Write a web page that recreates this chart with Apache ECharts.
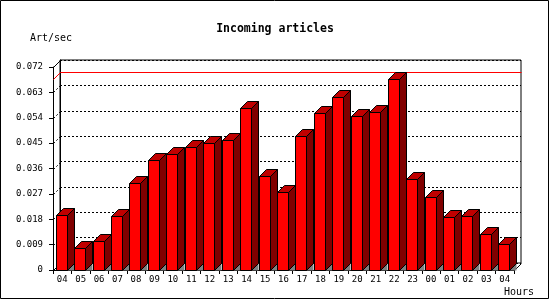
<!DOCTYPE html>
<html>
<head>
<meta charset="utf-8">
<script src="https://cdn.jsdelivr.net/npm/echarts@6/dist/echarts.min.js"></script>
<style>
  html, body { margin: 0; padding: 0; background: #fff; }
  #chart { width: 550px; height: 300px; }
</style>
</head>
<body>
<div id="chart"></div>
<script>
// hour labels along the x axis
const hours = ['04', '05', '06', '07', '08', '09', '10', '11', '12', '13', '14', '15', '16',
  '17', '18', '19', '20', '21', '22', '23', '00', '01', '02', '03', '04']
// incoming articles per second
const artPerSec = [0.0194, 0.0077, 0.0103, 0.0190, 0.0307, 0.0390, 0.0410, 0.0435, 0.0449,
  0.0460, 0.0576, 0.0332, 0.0275, 0.0474, 0.0556, 0.0615, 0.0545, 0.0559, 0.0679, 0.0321,
  0.0258, 0.0187, 0.0190, 0.0126, 0.0091]
// y axis ticks
const yTicks = [0, 0.009, 0.018, 0.027, 0.036, 0.045, 0.054, 0.063, 0.072]

const FONT = 'DejaVu Sans Mono'
const DEPTH = 7
const yMin = yTicks[0]
const yMax = yTicks[yTicks.length - 1]
const yStep = yTicks[1] - yTicks[0]

const chart = echarts.init(document.getElementById('chart'))

// left wall ticks, max line and floor edge
const renderFrame = (params, api) => {
  const cs = params.coordSys
  const x0 = Math.round(cs.x) + 0.5
  const x1 = Math.round(cs.x + cs.width) + 0.5
  const yb = Math.round(cs.y + cs.height) + 0.5
  const children = []
  yTicks.forEach((v, i) => {
    const y = Math.round(api.coord([0, v])[1]) + 0.5
    const solid = i === 0 || i === yTicks.length - 1
    children.push({
      type: 'line',
      shape: { x1: x0, y1: y, x2: x0 + DEPTH, y2: y - DEPTH },
      style: { stroke: '#000', lineWidth: 1, lineDash: solid ? null : [2, 2] }
    })
  })
  const vmax = Math.max(...artPerSec)
  const ym = Math.round(api.coord([0, vmax])[1]) + 0.5
  children.push({
    type: 'polyline',
    shape: { points: [[x0, ym], [x0 + DEPTH, ym - DEPTH], [x1 + DEPTH, ym - DEPTH]] },
    style: { stroke: '#ff0000', lineWidth: 1, fill: null }
  })
  children.push({
    type: 'line',
    shape: { x1: x1, y1: yb, x2: x1 + DEPTH, y2: yb - DEPTH },
    style: { stroke: '#000', lineWidth: 1 }
  })
  return { type: 'group', children }
}

const renderBar = (params, api) => {
  const top = api.coord([api.value(0), api.value(1)])
  const base = api.coord([api.value(0), 0])
  const w = 11
  const xl = Math.round(top[0] - 6.5) + 0.5
  const xr = xl + w
  const yt = Math.round(top[1]) + 0.5
  const yb = Math.round(base[1]) + 0.5
  const d = DEPTH
  const edge = { stroke: '#000', lineWidth: 1 }
  return {
    type: 'group',
    children: [
      {
        type: 'polygon',
        shape: { points: [[xr, yb], [xr + d, yb - d], [xr + d, yb]] },
        style: { fill: '#808080' }
      },
      {
        type: 'polygon',
        shape: { points: [[xr, yt], [xr + d, yt - d], [xr + d, yb - d], [xr, yb]] },
        style: Object.assign({ fill: '#800000' }, edge)
      },
      {
        type: 'polygon',
        shape: { points: [[xl, yt], [xl + d, yt - d], [xr + d, yt - d], [xr, yt]] },
        style: Object.assign({ fill: '#c00000' }, edge)
      },
      {
        type: 'rect',
        shape: { x: xl, y: yt, width: w, height: yb - yt },
        style: Object.assign({ fill: '#ff0000' }, edge)
      }
    ]
  }
}

const option = {
  animation: false,
  backgroundColor: '#fff',
  title: {
    text: 'Incoming articles',
    left: 'center',
    top: 18,
    textStyle: { fontFamily: FONT, fontWeight: 'bold', fontSize: 11.5, color: '#000' }
  },
  graphic: [
    {
      type: 'rect',
      shape: { x: 0.5, y: 0.5, width: 548, height: 298 },
      style: { fill: null, stroke: '#000', lineWidth: 1 }
    },
    {
      type: 'text', left: 30, top: 33,
      style: { text: 'Art/sec', fontFamily: FONT, fontSize: 10, fill: '#000' }
    },
    {
      type: 'text', left: 504, top: 287,
      style: { text: 'Hours', fontFamily: FONT, fontSize: 10, fill: '#000' }
    }
  ],
  grid: [
    { left: 53, top: 67, width: 461, height: 203 },
    {
      left: 53 + DEPTH, top: 67 - DEPTH, width: 461, height: 203,
      show: true, borderColor: '#000', borderWidth: 1, backgroundColor: 'transparent'
    }
  ],
  xAxis: [
    {
      type: 'category',
      gridIndex: 0,
      data: hours,
      boundaryGap: true,
      axisLine: { lineStyle: { color: '#000', width: 1 } },
      axisTick: { show: true, length: 4, alignWithLabel: false, lineStyle: { color: '#000' } },
      axisLabel: { interval: 0, margin: 5, fontFamily: FONT, fontSize: 9, color: '#000' },
      splitLine: { show: false }
    },
    {
      type: 'category',
      gridIndex: 1,
      data: hours,
      show: false
    }
  ],
  yAxis: [
    {
      type: 'value',
      gridIndex: 0,
      min: yMin,
      max: yMax,
      interval: yStep,
      axisLine: { show: true, lineStyle: { color: '#000', width: 1 } },
      axisTick: { show: true, length: 4, lineStyle: { color: '#000' } },
      axisLabel: {
        margin: 10,
        fontFamily: FONT,
        fontSize: 9,
        color: '#000',
        formatter: (v) => (v === 0 ? '0' : v.toFixed(3))
      },
      splitLine: { show: false }
    },
    {
      type: 'value',
      gridIndex: 1,
      min: yMin,
      max: yMax,
      interval: yStep,
      axisLine: { show: true, lineStyle: { color: '#000', width: 1 } },
      axisTick: { show: false },
      axisLabel: { show: false },
      splitLine: { show: true, lineStyle: { color: '#000', width: 1, type: [2, 2] } }
    }
  ],
  series: [
    {
      type: 'custom',
      name: 'frame',
      xAxisIndex: 0,
      yAxisIndex: 0,
      z: 1,
      silent: true,
      data: [[0, 0]],
      renderItem: renderFrame
    },
    {
      type: 'custom',
      name: 'Art/sec',
      xAxisIndex: 0,
      yAxisIndex: 0,
      z: 2,
      data: artPerSec.map((v, i) => [i, v]),
      renderItem: renderBar
    }
  ]
}

chart.setOption(option)
</script>
</body>
</html>
